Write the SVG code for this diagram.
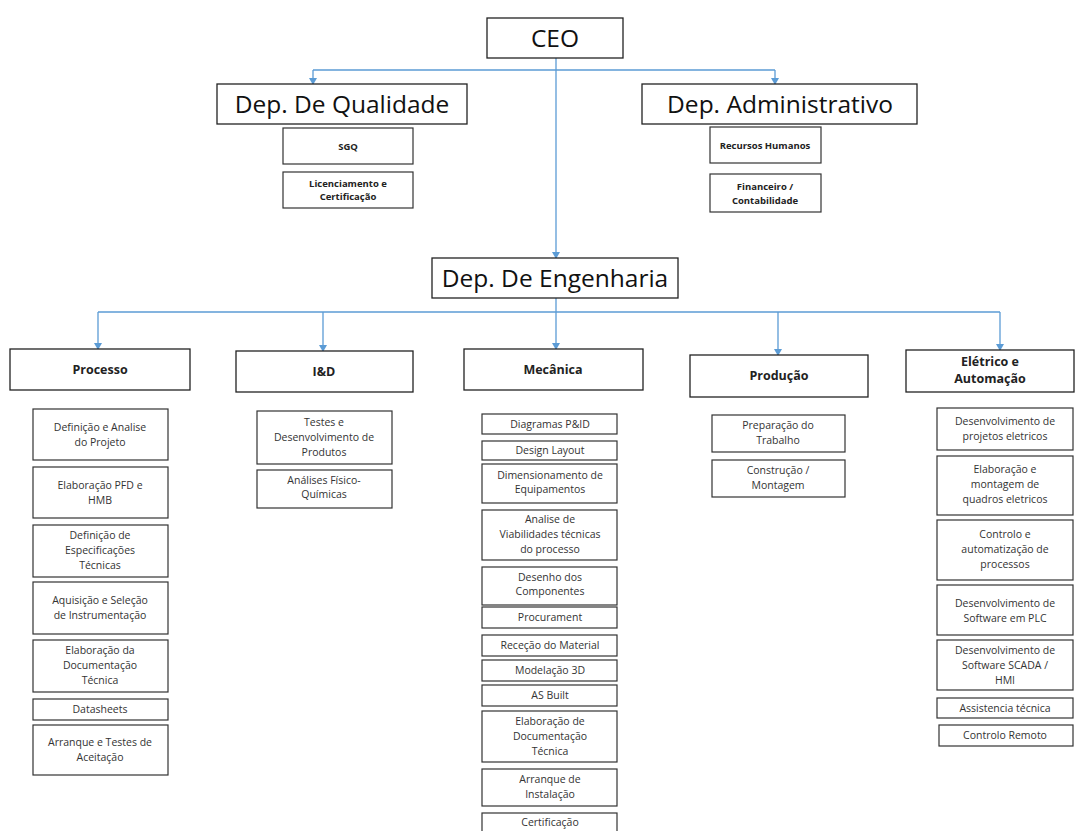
<svg xmlns="http://www.w3.org/2000/svg" width="1075" height="831" viewBox="0 0 1075 831">
<style>
.bg{fill:#fff}
.box{fill:#fff;stroke:#222;stroke-width:1.3}
.sub{fill:#fff;stroke:#333;stroke-width:1.2}
.big{font-family:"Open Sans","Liberation Sans",sans-serif;font-size:24.5px;fill:#111;text-anchor:middle}
.hd{font-family:"Open Sans","Liberation Sans",sans-serif;font-size:12.5px;font-weight:bold;fill:#222;text-anchor:middle}
.sm{font-family:"Open Sans","Liberation Sans",sans-serif;font-size:9.5px;font-weight:bold;fill:#222;text-anchor:middle}
.t{font-family:"Open Sans","Liberation Sans",sans-serif;font-size:10.5px;fill:#333;text-anchor:middle}
.c{fill:none;stroke:#5b9bd5;stroke-width:1.3}
</style>
<defs>
<marker id="ar" markerWidth="8" markerHeight="8" refX="6" refY="4" orient="auto" markerUnits="userSpaceOnUse">
<path d="M0,0 L7,4 L0,8 z" fill="#5b9bd5"/>
</marker>
</defs>
<rect class="bg" width="1075" height="831"/>
<g id="connectors">
<path class="c" d="M556,58 V258" marker-end="url(#ar)"/>
<path class="c" d="M313,70 H775"/>
<path class="c" d="M313,70 V84" marker-end="url(#ar)"/>
<path class="c" d="M775,70 V84" marker-end="url(#ar)"/>
<path class="c" d="M556,298 V349" marker-end="url(#ar)"/>
<path class="c" d="M98,312 H1000"/>
<path class="c" d="M98,312 V349" marker-end="url(#ar)"/>
<path class="c" d="M323,312 V351" marker-end="url(#ar)"/>
<path class="c" d="M778,312 V355" marker-end="url(#ar)"/>
<path class="c" d="M1000,312 V350" marker-end="url(#ar)"/>
</g>
<g id="ceo"><rect class="box" x="487" y="18" width="136" height="40"/><text class="big" x="555" y="47">CEO</text></g>
<g id="dep-qualidade"><rect class="box" x="217" y="84" width="250" height="40"/><text class="big" x="342" y="113">Dep. De Qualidade</text></g>
<g id="dep-admin"><rect class="box" x="642" y="84" width="275" height="40"/><text class="big" x="780" y="113">Dep. Administrativo</text></g>
<g id="sgq"><rect class="sub" x="283" y="128" width="130" height="36"/><text class="sm" x="348" y="150">SGQ</text></g>
<g id="licenciamento"><rect class="sub" x="283" y="172" width="130" height="36"/><text class="sm" x="348" y="187">Licenciamento e<tspan x="348" dy="13">Certificação</tspan></text></g>
<g id="rh"><rect class="sub" x="710" y="127" width="111" height="36"/><text class="sm" x="765" y="149">Recursos Humanos</text></g>
<g id="financeiro"><rect class="sub" x="710" y="174" width="111" height="38"/><text class="sm" x="765" y="190">Financeiro /<tspan x="765" dy="14">Contabilidade</tspan></text></g>
<g id="dep-engenharia"><rect class="box" x="432" y="258" width="246" height="40"/><text class="big" x="555" y="287">Dep. De Engenharia</text></g>

<g id="processo"><rect class="box" x="10" y="349" width="180" height="41"/><text class="hd" x="100" y="374">Processo</text></g>
<g id="id"><rect class="box" x="236" y="351" width="177" height="41"/><text class="hd" x="324" y="376">I&amp;D</text></g>
<g id="mecanica"><rect class="box" x="464" y="349" width="179" height="41"/><text class="hd" x="553" y="374">Mecânica</text></g>
<g id="producao"><rect class="box" x="690" y="355" width="178" height="42"/><text class="hd" x="779" y="380">Produção</text></g>
<g id="eletrico"><rect class="box" x="906" y="350" width="168" height="42"/><text class="hd" x="990" y="366">Elétrico e<tspan x="990" dy="17">Automação</tspan></text></g>

<g id="p1"><rect class="sub" x="33" y="409" width="135" height="51"/><text class="t" x="100" y="431">Definição e Analise<tspan x="100" dy="15">do Projeto</tspan></text></g>
<g id="p2"><rect class="sub" x="33" y="467" width="135" height="51"/><text class="t" x="100" y="489">Elaboração PFD e<tspan x="100" dy="15">HMB</tspan></text></g>
<g id="p3"><rect class="sub" x="33" y="525" width="135" height="52"/><text class="t" x="100" y="539">Definição de<tspan x="100" dy="15">Especificações</tspan><tspan x="100" dy="15">Técnicas</tspan></text></g>
<g id="p4"><rect class="sub" x="33" y="582" width="135" height="52"/><text class="t" x="100" y="604">Aquisição e Seleção<tspan x="100" dy="15">de Instrumentação</tspan></text></g>
<g id="p5"><rect class="sub" x="33" y="640" width="135" height="52"/><text class="t" x="100" y="654">Elaboração da<tspan x="100" dy="15">Documentação</tspan><tspan x="100" dy="15">Técnica</tspan></text></g>
<g id="p6"><rect class="sub" x="33" y="699" width="135" height="21"/><text class="t" x="100" y="713">Datasheets</text></g>
<g id="p7"><rect class="sub" x="33" y="725" width="135" height="50"/><text class="t" x="100" y="746">Arranque e Testes de<tspan x="100" dy="15">Aceitação</tspan></text></g>

<g id="i1"><rect class="sub" x="257" y="411" width="135" height="53"/><text class="t" x="324" y="426">Testes e<tspan x="324" dy="15">Desenvolvimento de</tspan><tspan x="324" dy="15">Produtos</tspan></text></g>
<g id="i2"><rect class="sub" x="257" y="470" width="135" height="38"/><text class="t" x="324" y="484">Análises Físico-<tspan x="324" dy="14">Químicas</tspan></text></g>

<g id="m1"><rect class="sub" x="482" y="414" width="135" height="20"/><text class="t" x="550" y="428">Diagramas P&amp;ID</text></g>
<g id="m2"><rect class="sub" x="482" y="441" width="135" height="19"/><text class="t" x="550" y="454">Design Layout</text></g>
<g id="m3"><rect class="sub" x="482" y="464" width="135" height="39"/><text class="t" x="550" y="479">Dimensionamento de<tspan x="550" dy="14">Equipamentos</tspan></text></g>
<g id="m4"><rect class="sub" x="482" y="510" width="135" height="50"/><text class="t" x="550" y="523">Analise de<tspan x="550" dy="15">Viabilidades técnicas</tspan><tspan x="550" dy="15">do processo</tspan></text></g>
<g id="m5"><rect class="sub" x="482" y="567" width="135" height="38"/><text class="t" x="550" y="581">Desenho dos<tspan x="550" dy="14">Componentes</tspan></text></g>
<g id="m6"><rect class="sub" x="482" y="607" width="135" height="21"/><text class="t" x="550" y="621">Procurament</text></g>
<g id="m7"><rect class="sub" x="482" y="635" width="135" height="21"/><text class="t" x="550" y="649">Receção do Material</text></g>
<g id="m8"><rect class="sub" x="482" y="660" width="135" height="21"/><text class="t" x="550" y="674">Modelação 3D</text></g>
<g id="m9"><rect class="sub" x="482" y="685" width="135" height="21"/><text class="t" x="550" y="699">AS Built</text></g>
<g id="m10"><rect class="sub" x="482" y="711" width="135" height="51"/><text class="t" x="550" y="725">Elaboração de<tspan x="550" dy="15">Documentação</tspan><tspan x="550" dy="15">Técnica</tspan></text></g>
<g id="m11"><rect class="sub" x="482" y="769" width="135" height="37"/><text class="t" x="550" y="783">Arranque de<tspan x="550" dy="15">Instalação</tspan></text></g>
<g id="m12"><rect class="sub" x="482" y="813" width="135" height="20"/><text class="t" x="550" y="826">Certificação</text></g>

<g id="pr1"><rect class="sub" x="712" y="415" width="133" height="37"/><text class="t" x="778" y="429">Preparação do<tspan x="778" dy="15">Trabalho</tspan></text></g>
<g id="pr2"><rect class="sub" x="712" y="460" width="133" height="37"/><text class="t" x="778" y="474">Construção /<tspan x="778" dy="15">Montagem</tspan></text></g>

<g id="e1"><rect class="sub" x="937" y="408" width="136" height="42"/><text class="t" x="1005" y="425">Desenvolvimento de<tspan x="1005" dy="15">projetos eletricos</tspan></text></g>
<g id="e2"><rect class="sub" x="937" y="456" width="136" height="59"/><text class="t" x="1005" y="473">Elaboração e<tspan x="1005" dy="15">montagem de</tspan><tspan x="1005" dy="15">quadros eletricos</tspan></text></g>
<g id="e3"><rect class="sub" x="937" y="520" width="136" height="60"/><text class="t" x="1005" y="538">Controlo e<tspan x="1005" dy="15">automatização de</tspan><tspan x="1005" dy="15">processos</tspan></text></g>
<g id="e4"><rect class="sub" x="937" y="585" width="136" height="50"/><text class="t" x="1005" y="607">Desenvolvimento de<tspan x="1005" dy="15">Software em PLC</tspan></text></g>
<g id="e5"><rect class="sub" x="937" y="640" width="136" height="50"/><text class="t" x="1005" y="654">Desenvolvimento de<tspan x="1005" dy="15">Software SCADA /</tspan><tspan x="1005" dy="15">HMI</tspan></text></g>
<g id="e6"><rect class="sub" x="937" y="698" width="136" height="20"/><text class="t" x="1005" y="712">Assistencia técnica</text></g>
<g id="e7"><rect class="sub" x="939" y="725" width="134" height="21"/><text class="t" x="1005" y="739">Controlo Remoto</text></g>
</svg>
